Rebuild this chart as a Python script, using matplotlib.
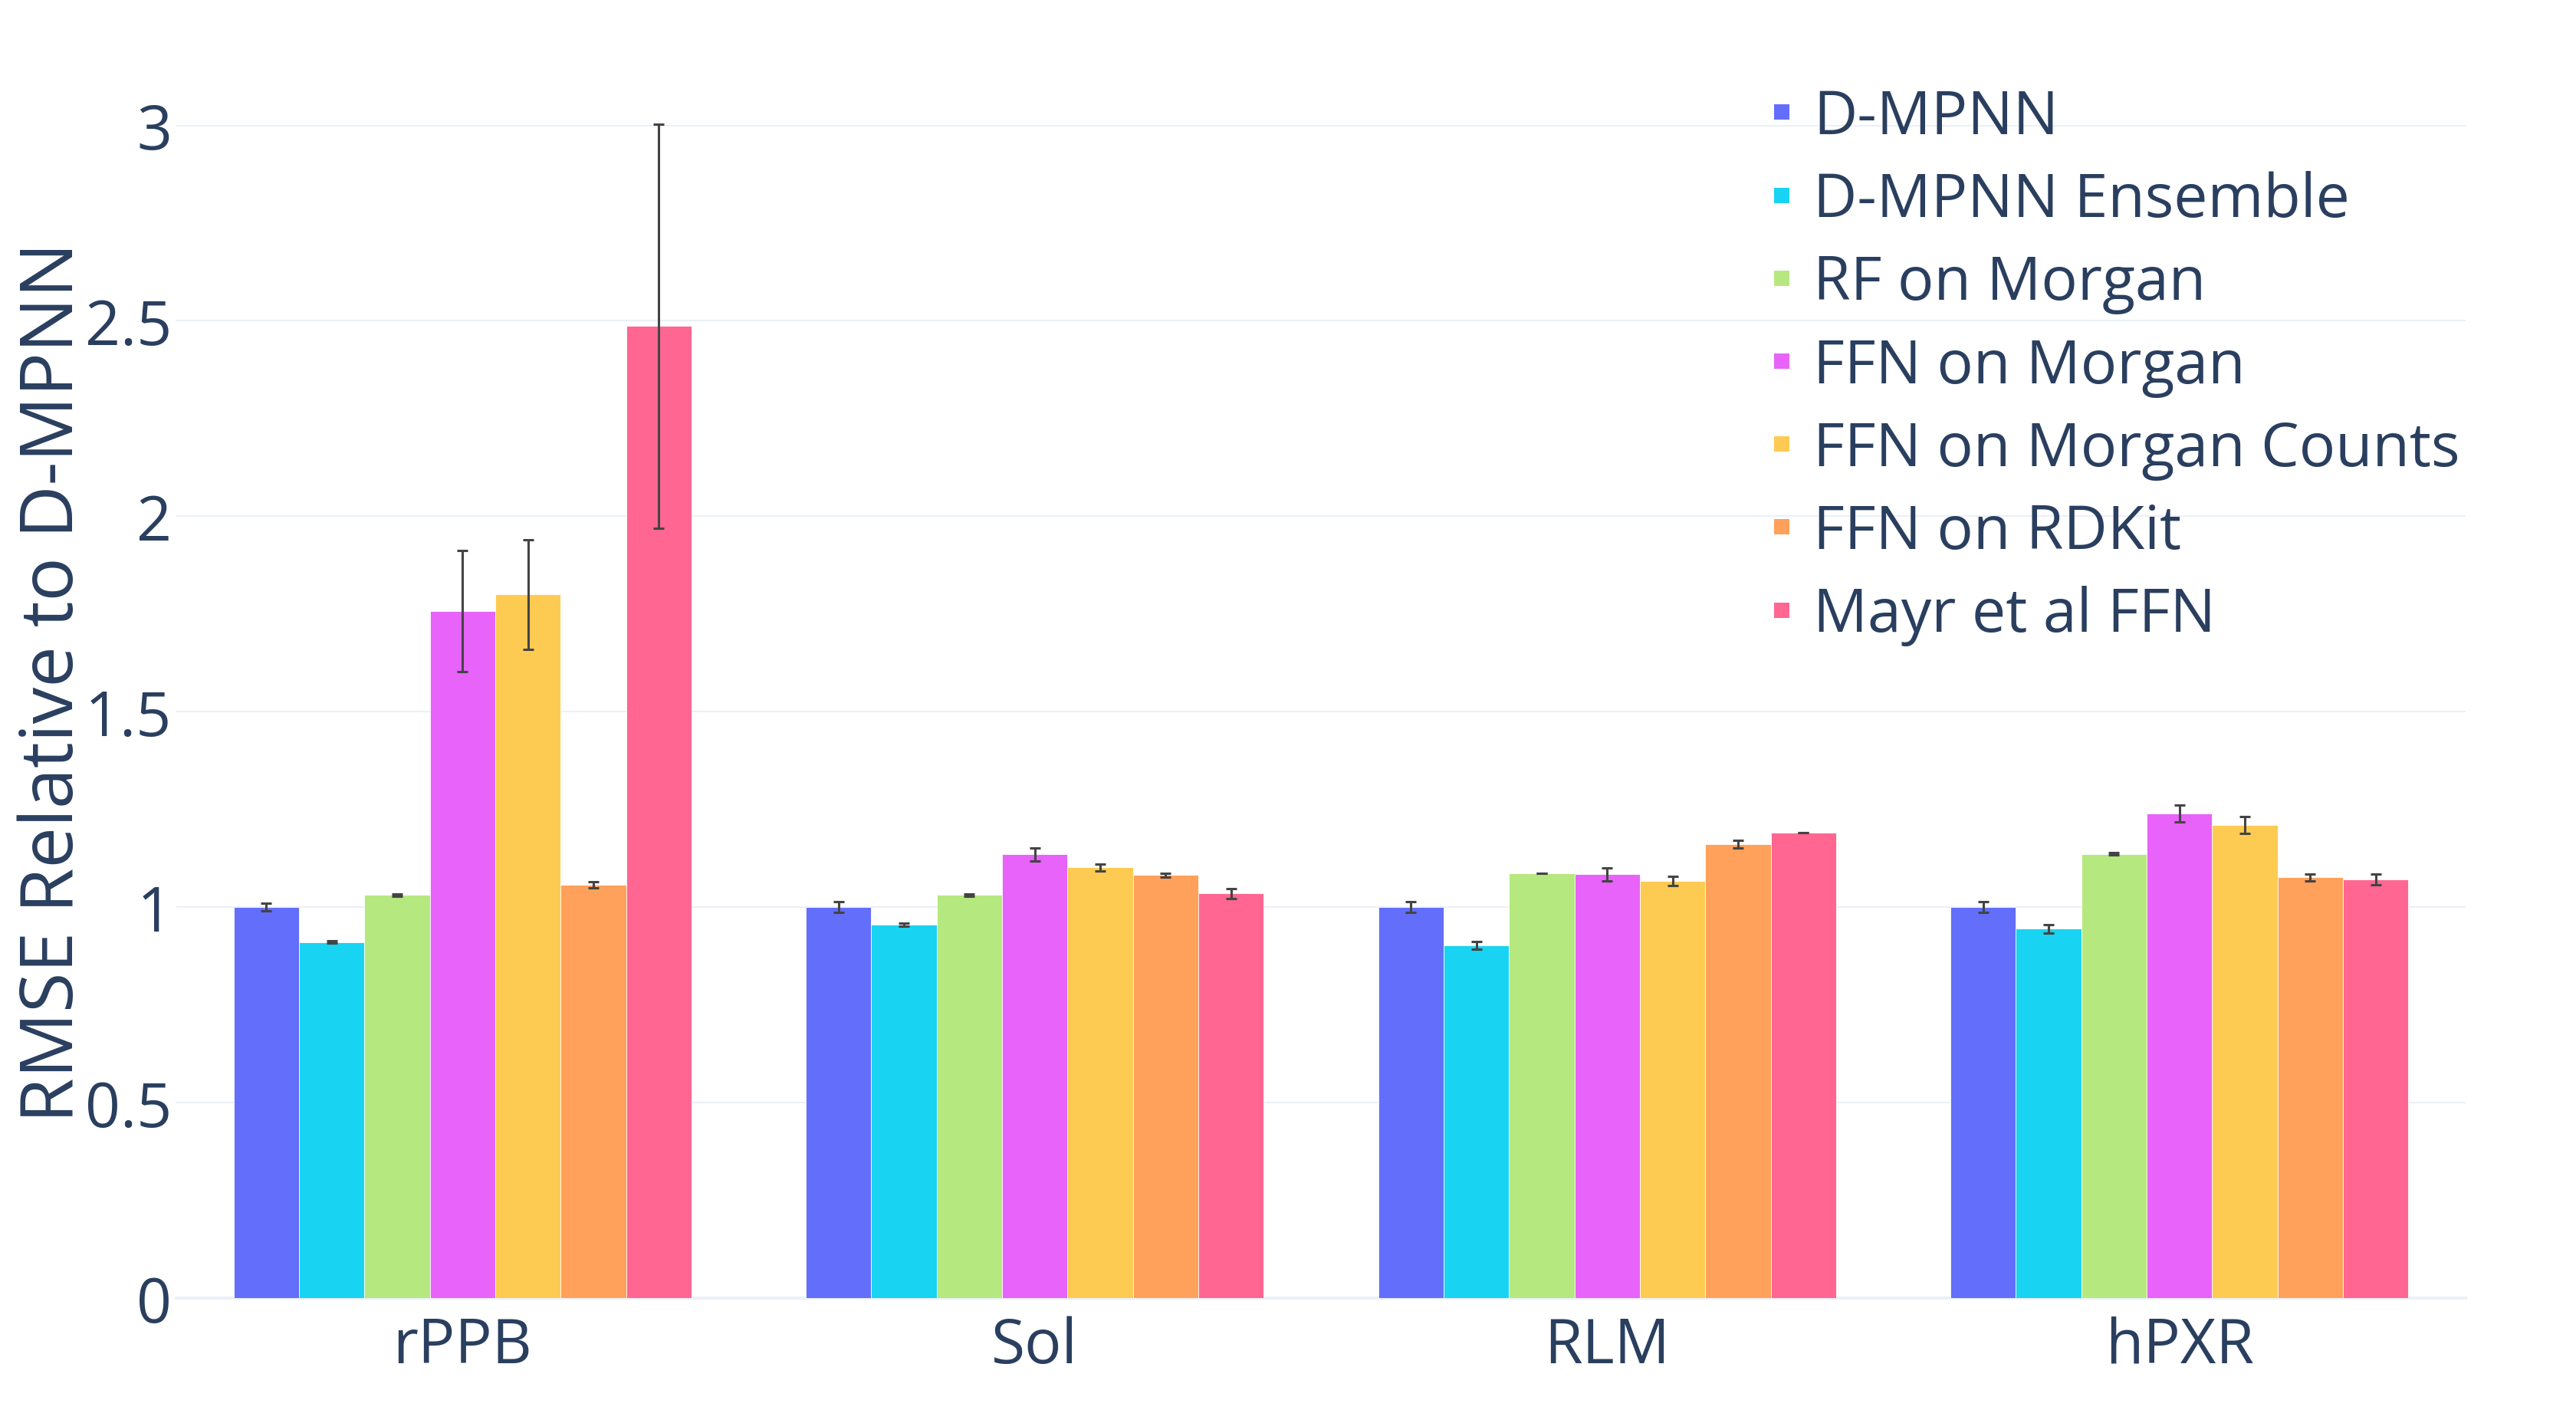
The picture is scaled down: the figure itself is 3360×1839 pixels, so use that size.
import numpy as np
import matplotlib.pyplot as plt
from matplotlib.lines import Line2D

# datasets on the x axis
datasets = ["rPPB", "Sol", "RLM", "hPXR"]

# models (legend order)
models = ["D-MPNN", "D-MPNN Ensemble", "RF on Morgan", "FFN on Morgan",
          "FFN on Morgan Counts", "FFN on RDKit", "Mayr et al FFN"]
colors = ["#636EFA", "#19D3F3", "#B6E880", "#E763FA", "#FECB52", "#FFA15A", "#FF6692"]

# RMSE relative to D-MPNN, one list per model (rPPB, Sol, RLM, hPXR)
dmpnn = [1.0, 1.0, 1.0, 1.0]
dmpnn_ens = [0.911, 0.955, 0.902, 0.945]
rf_morgan = [1.031, 1.031, 1.087, 1.136]
ffn_morgan = [1.757, 1.135, 1.084, 1.240]
ffn_counts = [1.800, 1.102, 1.067, 1.210]
ffn_rdkit = [1.058, 1.082, 1.161, 1.076]
mayr = [2.487, 1.035, 1.191, 1.071]

# error bars
dmpnn_err = [0.010, 0.014, 0.014, 0.014]
dmpnn_ens_err = [0.003, 0.004, 0.010, 0.011]
rf_morgan_err = [0.003, 0.003, 0.0, 0.003]
ffn_morgan_err = [0.155, 0.016, 0.017, 0.022]
ffn_counts_err = [0.140, 0.009, 0.011, 0.021]
ffn_rdkit_err = [0.008, 0.005, 0.010, 0.009]
mayr_err = [0.517, 0.013, 0.0, 0.014]

yticks = [0, 0.5, 1, 1.5, 2, 2.5, 3]
ytick_labels = ["0", "0.5", "1", "1.5", "2", "2.5", "3"]

values = [dmpnn, dmpnn_ens, rf_morgan, ffn_morgan, ffn_counts, ffn_rdkit, mayr]
errors = [dmpnn_err, dmpnn_ens_err, rf_morgan_err, ffn_morgan_err,
          ffn_counts_err, ffn_rdkit_err, mayr_err]

text_color = "#2a3f5f"
grid_color = "#EBF0F8"
plt.rcParams["font.family"] = ["Open Sans", "DejaVu Sans"]

fig = plt.figure(figsize=(16.8, 9.2), dpi=200)
ax = fig.add_axes([0.06845, 0.07935, 0.88869, 0.87554])

x = np.arange(len(datasets))
n = len(models)
w = 0.8 / n
for i in range(n):
    pos = x + (i - (n - 1) / 2) * w
    ax.bar(pos, values[i], width=w, color=colors[i], edgecolor="white",
           linewidth=0.3, label=models[i], zorder=2)
    ax.errorbar(pos, values[i], yerr=errors[i], fmt="none", ecolor="#444444",
                elinewidth=1.1, capsize=2.5, capthick=1.1, zorder=3)

ax.set_xlim(-0.5, len(datasets) - 0.5)
ax.set_ylim(0, 3.16)
ax.set_xticks(x)
ax.set_xticklabels(datasets)
ax.set_yticks(yticks)
ax.set_yticklabels(ytick_labels)
ax.tick_params(axis="both", length=0, labelsize=29, labelcolor=text_color)
ax.tick_params(axis="y", pad=2)
ax.tick_params(axis="x", pad=8)
ax.grid(axis="y", color=grid_color, linewidth=0.75, zorder=0)
ax.set_axisbelow(True)
for s in ["top", "right", "left"]:
    ax.spines[s].set_visible(False)
ax.spines["bottom"].set_color(grid_color)
ax.spines["bottom"].set_linewidth(1.5)
ax.spines["bottom"].set_zorder(1)

ax.set_ylabel("RMSE Relative to D-MPNN", fontsize=34.3, color=text_color)
ax.yaxis.set_label_coords(-0.0375, 0.499)

handles = [Line2D([], [], linestyle="none", marker="s", markersize=7.2,
                  markerfacecolor=c, markeredgewidth=0) for c in colors]
leg = fig.legend(handles, models, loc="upper left",
                 bbox_to_anchor=(2300 / 3360, 1 - 115 / 1840),
                 frameon=False, fontsize=28.4, labelcolor=text_color,
                 handlelength=0.6, handletextpad=0.23, borderpad=0,
                 borderaxespad=0, labelspacing=0.37)

fig.savefig("out.png", dpi=200, facecolor="white")
